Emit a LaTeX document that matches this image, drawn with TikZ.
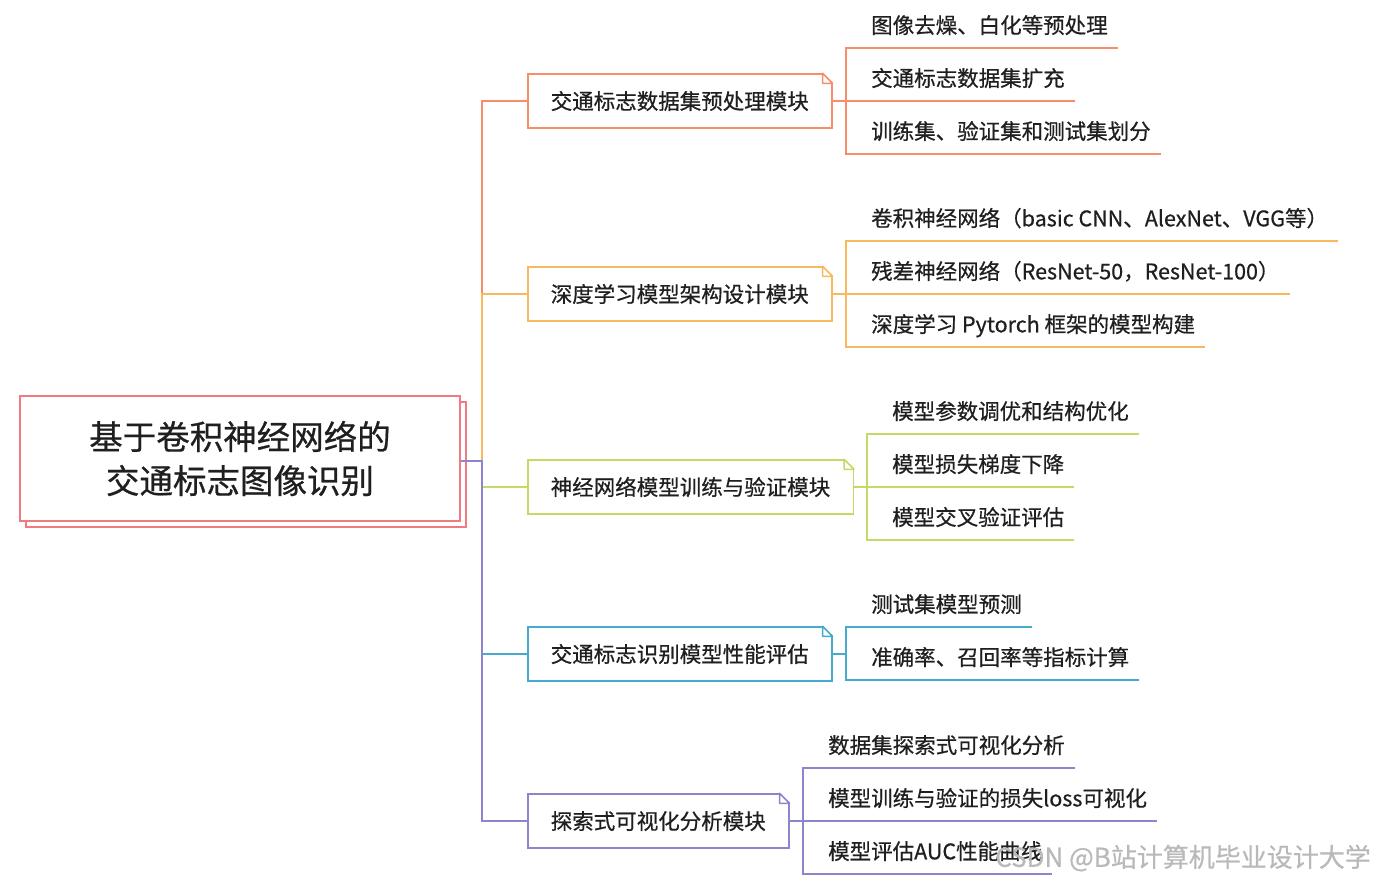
\documentclass[tikz,border=0pt]{standalone}
\usepackage{fontspec}
\setmainfont{Noto Sans CJK SC}[FakeBold=0.6]
\usetikzlibrary{positioning,shadows}

\definecolor{rootred}{HTML}{F07A80}
\definecolor{cA}{HTML}{F98C6B}
\definecolor{cB}{HTML}{F9B75E}
\definecolor{cC}{HTML}{C2DA66}
\definecolor{cD}{HTML}{45AACB}
\definecolor{cE}{HTML}{8B86CC}

\begin{document}
\begin{tikzpicture}[
    x=1pt, y=-1pt,
    every node/.style={font=\fontsize{21.5}{26}\selectfont, text=black!88, inner sep=0pt},
    root/.style={draw=rootred, line width=1.5pt, fill=white, align=center,
      minimum width=440pt, minimum height=125pt, font=\fontsize{33.5}{44}\selectfont,
      copy shadow={shadow xshift=6pt, shadow yshift=-6pt, draw=rootred, fill=white, line width=1.5pt}},
    module/.style={draw=#1, line width=1.5pt, fill=white, anchor=west, minimum height=54pt,
      inner xsep=23pt, text height=17pt, text depth=0.5pt},
    leaf/.style={anchor=south west, inner xsep=10pt, inner ysep=14.5pt, text height=17pt, text depth=0pt},
    link/.style={draw=#1, line width=1.5pt}
  ]
    \useasboundingbox (0,0) rectangle (1375,883);

    \node[root] (root) at (240,458.5) {基于卷积神经网络的\\交通标志图像识别};
    \coordinate (trunk) at (482,0);

    % modules
    \node[module=cA] (m1) at (527,101) {交通标志数据集预处理模块};
    \node[module=cB] (m2) at (527,294) {深度学习模型架构设计模块};
    \node[module=cC] (m3) at (527,487) {神经网络模型训练与验证模块};
    \node[module=cD] (m4) at (527,654) {交通标志识别模型性能评估};
    \node[module=cE] (m5) at (527,821) {探索式可视化分析模块};
    \foreach \m/\c in {m1/cA, m2/cB, m3/cC, m4/cD, m5/cE} {
      \fill[white] ([xshift=-10pt,yshift=1pt]\m.north east) -- ([xshift=1pt,yshift=1pt]\m.north east)
        -- ([xshift=1pt,yshift=-10pt]\m.north east) -- cycle;
      \draw[\c, line width=1.5pt, line join=round] ([xshift=-10pt]\m.north east) -- ([yshift=-10pt]\m.north east)
        -- ([xshift=-10pt,yshift=-10pt]\m.north east) -- cycle;
    }

    \draw[link=cA] ([yshift=-2.5pt]root.east) -- ([yshift=-2.5pt]root.east -| trunk) |- (m1.west);
    \draw[link=cB] ([yshift=-2.5pt]root.east) -- ([yshift=-2.5pt]root.east -| trunk) |- (m2.west);
    \draw[link=cC] ([yshift=-2.5pt]root.east) -- ([yshift=-2.5pt]root.east -| trunk) |- (m3.west);
    \draw[link=cD] ([yshift=-2.5pt]root.east) -- ([yshift=-2.5pt]root.east -| trunk) |- (m4.west);
    \draw[link=cE] ([yshift=-2.5pt]root.east) -- ([yshift=-2.5pt]root.east -| trunk) |- (m5.west);

    % leaves of module 1
    \coordinate (b1) at (846,0);
    \node[leaf] (l11) at (861,48) {图像去燥、白化等预处理};
    \node[leaf] (l12) at (861,101) {交通标志数据集扩充};
    \node[leaf] (l13) at (861,154) {训练集、验证集和测试集划分};
    \draw[link=cA] (m1.east) -| (l11.south west -| b1) -- (l11.south east);
    \draw[link=cA] (m1.east) -| (l12.south west -| b1) -- (l12.south east);
    \draw[link=cA] (m1.east) -| (l13.south west -| b1) -- (l13.south east);

    % leaves of module 2
    \coordinate (b2) at (846,0);
    \node[leaf] (l21) at (861,241) {卷积神经网络（basic CNN、AlexNet、VGG等）};
    \node[leaf] (l22) at (861,294) {残差神经网络（ResNet-50，ResNet-100）};
    \node[leaf] (l23) at (861,347) {深度学习 Pytorch 框架的模型构建};
    \draw[link=cB] (m2.east) -| (l21.south west -| b2) -- (l21.south east);
    \draw[link=cB] (m2.east) -| (l22.south west -| b2) -- (l22.south east);
    \draw[link=cB] (m2.east) -| (l23.south west -| b2) -- (l23.south east);

    % leaves of module 3
    \coordinate (b3) at (867,0);
    \node[leaf] (l31) at (882,434) {模型参数调优和结构优化};
    \node[leaf] (l32) at (882,487) {模型损失梯度下降};
    \node[leaf] (l33) at (882,540) {模型交叉验证评估};
    \draw[link=cC] (m3.east) -| (l31.south west -| b3) -- (l31.south east);
    \draw[link=cC] (m3.east) -| (l32.south west -| b3) -- (l32.south east);
    \draw[link=cC] (m3.east) -| (l33.south west -| b3) -- (l33.south east);

    % leaves of module 4
    \coordinate (b4) at (846,0);
    \node[leaf] (l41) at (861,627) {测试集模型预测};
    \node[leaf] (l42) at (861,680) {准确率、召回率等指标计算};
    \draw[link=cD] (m4.east) -| (l41.south west -| b4) -- (l41.south east);
    \draw[link=cD] (m4.east) -| (l42.south west -| b4) -- (l42.south east);

    % leaves of module 5
    \coordinate (b5) at (803,0);
    \node[leaf] (l51) at (818,768) {数据集探索式可视化分析};
    \node[leaf] (l52) at (818,821) {模型训练与验证的损失loss可视化};
    \node[leaf] (l53) at (818,874) {模型评估AUC性能曲线};
    \draw[link=cE] (m5.east) -| (l51.south west -| b5) -- (l51.south east);
    \draw[link=cE] (m5.east) -| (l52.south west -| b5) -- (l52.south east);
    \draw[link=cE] (m5.east) -| (l53.south west -| b5) -- (l53.south east);

    \node[anchor=east, text=gray!55, font=\fontsize{26}{30}\selectfont] (mark) at (1371,858) {CSDN @B站计算机毕业设计大学};
  \end{tikzpicture}
\end{document}
